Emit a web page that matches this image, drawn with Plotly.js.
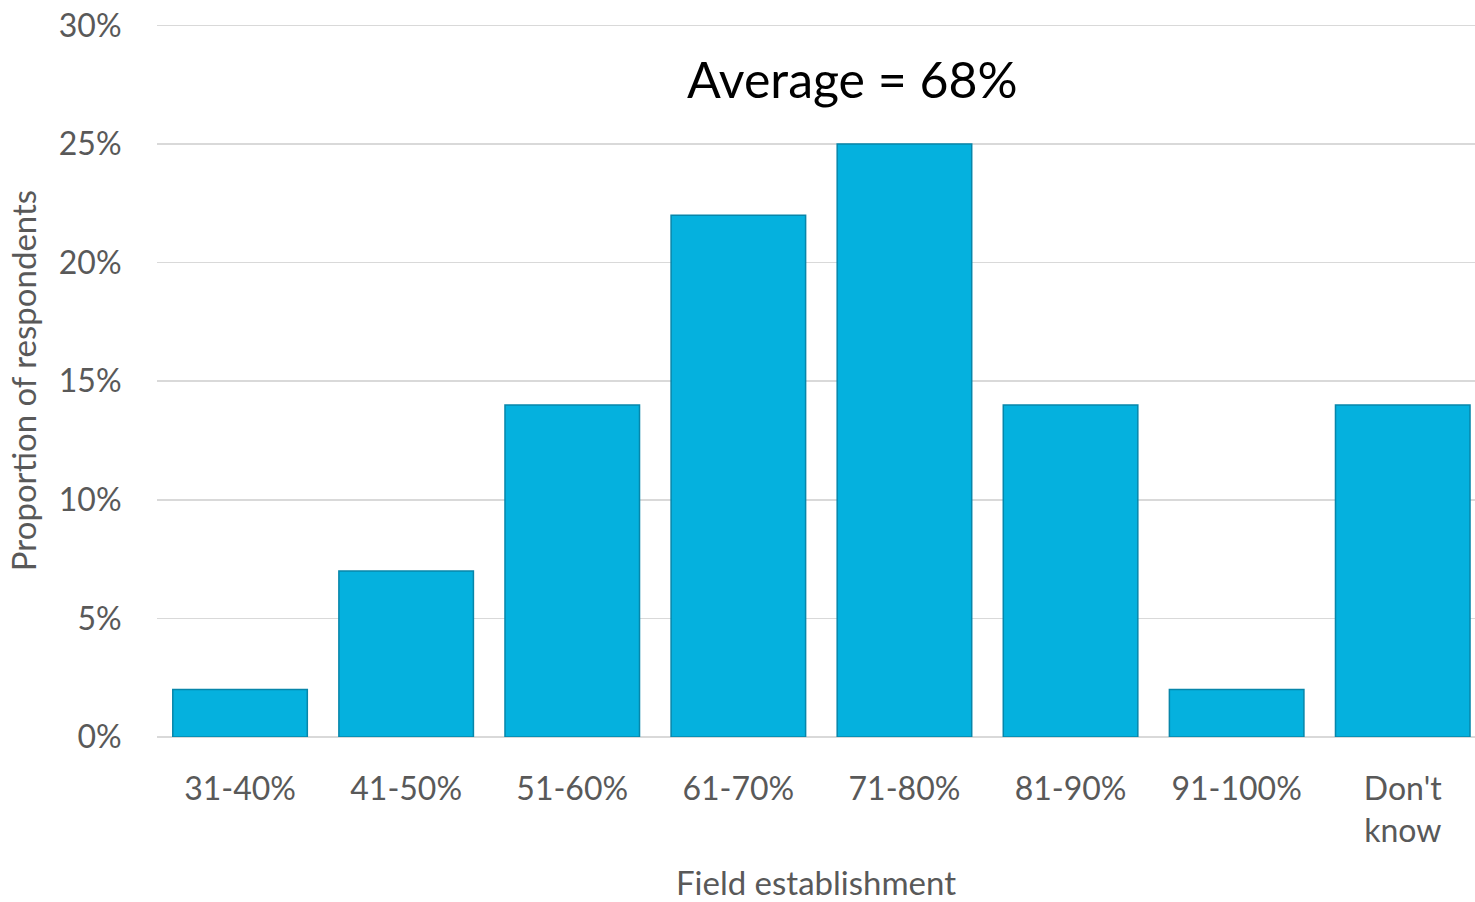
<!DOCTYPE html>
<html>
<head>
<meta charset="utf-8">
<script src="https://cdn.plot.ly/plotly-3.0.1.min.js"></script>
<style>html,body{margin:0;padding:0;background:#fff;}#chart{width:1475px;height:902px;}</style>
</head>
<body>
<div id="chart"></div>
<script>
const categories = ["31-40%", "41-50%", "51-60%", "61-70%", "71-80%", "81-90%", "91-100%", "Don't<br>know"];
const values = [2, 7, 14, 22, 25, 14, 2, 14];
const yTicks = [0, 5, 10, 15, 20, 25, 30];
const yTickText = ["0%", "5%", "10%", "15%", "20%", "25%", "30%"];
const averageLabel = "Average = 68%";

const FONT = "Lato, 'Open Sans', 'Liberation Sans', sans-serif";
const idx = categories.map((c, i) => i);

const trace = {
  type: 'bar',
  x: idx,
  y: values,
  marker: {
    color: '#05B1DE',
    line: {color: '#0786AA', width: 1.5}
  },
  hoverinfo: 'skip'
};

const layout = {
  width: 1475, height: 902,
  margin: {l: 157, r: 0, t: 24, b: 165},
  paper_bgcolor: '#fff', plot_bgcolor: '#fff',
  bargap: 0.19,
  showlegend: false,
  font: {family: FONT, color: '#595959', size: 32},
  xaxis: {
    range: [-0.5, 7.435],
    tickmode: 'array', tickvals: idx, ticktext: categories,
    ticks: 'outside', ticklen: 24, tickcolor: 'rgba(0,0,0,0)',
    showgrid: false, zeroline: false, showline: false,
    tickfont: {size: 32, color: '#595959', family: FONT},
    title: {text: 'Field establishment', font: {size: 33, color: '#595959', family: FONT}, standoff: 26}
  },
  yaxis: {
    range: [0, 30.06],
    tickmode: 'array', tickvals: yTicks, ticktext: yTickText,
    ticks: 'outside', ticklen: 28, tickcolor: 'rgba(0,0,0,0)',
    showgrid: true, gridcolor: '#d9d9d9', gridwidth: 1.5,
    zeroline: true, zerolinecolor: '#d9d9d9', zerolinewidth: 2.5,
    showline: false,
    tickfont: {size: 32, color: '#595959', family: FONT},
    title: {text: 'Proportion of respondents', font: {size: 33, color: '#595959', family: FONT}, standoff: 12}
  },
  annotations: [{
    x: 3.69, y: 27.75, xref: 'x', yref: 'y',
    text: averageLabel, showarrow: false,
    font: {size: 50, color: '#000', family: FONT}
  }]
};

Plotly.newPlot('chart', [trace], layout, {displayModeBar: false, staticPlot: true});
</script>
</body>
</html>
